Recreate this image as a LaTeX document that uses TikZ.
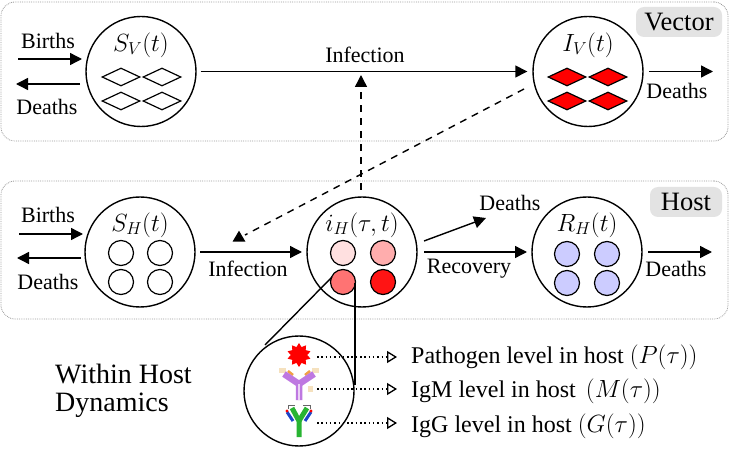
\documentclass[tikz,border=0pt]{standalone}
\usepackage{fontspec}
\setmainfont{Liberation Serif}
\usetikzlibrary{arrows.meta,shapes.geometric}
\definecolor{igmpurple}{RGB}{190,120,225}
\definecolor{igmpale}{RGB}{235,210,245}
\definecolor{igmorange}{RGB}{240,160,70}
\definecolor{igmsand}{RGB}{245,225,190}
\definecolor{iggblue}{RGB}{30,70,200}
\definecolor{igggreen}{RGB}{40,180,50}
\tikzset{
  panel/.style={draw=black!40, densely dotted, rounded corners=14pt, line width=0.8pt},
  tag/.style={fill=black!11, rounded corners=8pt, inner sep=0pt, font=\fontsize{26.5}{30}\selectfont},
  state/.style={draw, circle, line width=1.4pt, minimum size=110pt, inner sep=0pt},
  statetext/.style={font=\fontsize{27}{30}\selectfont},
  lab/.style={font=\fontsize{22}{26}\selectfont},
  note/.style={font=\fontsize{24}{28}\selectfont, anchor=base west, inner sep=0pt},
  flow/.style={-{Triangle[length=12pt,width=12pt]}, line width=1.4pt},
  dashflow/.style={line width=1.4pt, dash pattern=on 7pt off 6pt},
  rhomb/.style={draw, diamond, aspect=2.1, line width=1.2pt, minimum width=38pt, minimum height=18pt, inner sep=0pt},
  cell/.style={draw, circle, line width=1.2pt, minimum size=25pt, inner sep=0pt},
  probe/.style={dash pattern=on 1.5pt off 2.8pt, line width=1.4pt, -{Triangle[open,length=10pt,width=12pt,line width=1.3pt]}}
}
\begin{document}
\begin{tikzpicture}[x=1pt,y=-1pt]
\useasboundingbox (0,0) rectangle (729,449);
% panels
\node[panel, minimum width=727pt, minimum height=139pt, inner sep=0pt] (vectorbox) at (364.5,71.5) {};
\node[panel, minimum width=727pt, minimum height=138pt, inner sep=0pt] (hostbox) at (364.5,250) {};
\node[tag, minimum width=86pt, minimum height=30pt] (vectortag) at (679,22) {Vector};
\node[tag, minimum width=72pt, minimum height=30pt] (hosttag) at (686,202) {Host};
% states
\node[state] (SV) at (141,71.5) {};
\node[state] (IV) at (588,71.5) {};
\node[state] (SH) at (140,252) {};
\node[state] (iH) at (362,252) {};
\node[state] (RH) at (587,252) {};
\node[statetext] (SVtext) at (141,45) {$S_V(t)$};
\node[statetext] (IVtext) at (588,45) {$I_V(t)$};
\node[statetext] (SHtext) at (140,225) {$S_H(t)$};
\node[statetext] (iHtext) at (362,225) {$i_H(\tau,t)$};
\node[statetext] (RHtext) at (587,225) {$R_H(t)$};
% diamonds
\node[rhomb] (SV1) at (121,77) {};
\node[rhomb] (SV2) at (162,77) {};
\node[rhomb] (SV3) at (121,101) {};
\node[rhomb] (SV4) at (162,101) {};
\node[rhomb, fill=red] (IV1) at (567,77) {};
\node[rhomb, fill=red] (IV2) at (608,77) {};
\node[rhomb, fill=red] (IV3) at (567,101) {};
\node[rhomb, fill=red] (IV4) at (608,101) {};
% cells
\node[cell] (SH1) at (121,253) {};
\node[cell] (SH2) at (160,253) {};
\node[cell] (SH3) at (121,282) {};
\node[cell] (SH4) at (160,282) {};
\node[cell, fill=red!12] (iH1) at (343,253) {};
\node[cell, fill=red!32] (iH2) at (383,253) {};
\node[cell, fill=red!55] (iH3) at (343,282) {};
\node[cell, fill=red!92] (iH4) at (383,282) {};
\node[cell, fill=blue!20] (RH1) at (567,254) {};
\node[cell, fill=blue!20] (RH2) at (607,254) {};
\node[cell, fill=blue!20] (RH3) at (567,283) {};
\node[cell, fill=blue!20] (RH4) at (607,283) {};
% free ends
\coordinate (SVbirth0) at (18,59);
\coordinate (SVbirth1) at (82,59);
\coordinate (SVdeath0) at (80,84);
\coordinate (SVdeath1) at (16,84);
\coordinate (IVdeath0) at (649,71.5);
\coordinate (IVdeath1) at (713,71.5);
\coordinate (SHbirth0) at (19,234);
\coordinate (SHbirth1) at (83,234);
\coordinate (SHdeath0) at (81,258);
\coordinate (SHdeath1) at (17,258);
\coordinate (RHdeath0) at (648,252);
\coordinate (RHdeath1) at (712,252);
\coordinate (iHdeath0) at (424,241);
\coordinate (iHdeath1) at (486,218);
\coordinate (iHrec0) at (424,252);
\coordinate (iHrec1) at (527,252);
\coordinate (SHinf0) at (200,252);
\coordinate (SHinf1) at (302,252);
\coordinate (dash0) at (361,190);
\coordinate (dash1) at (361,75);
\coordinate (dash2) at (524,89);
\coordinate (dash3) at (245,235);
% arrows
\draw[flow] (SVbirth0) -- (SVbirth1);
\draw[flow] (SVdeath0) -- (SVdeath1);
\draw[flow, shorten <=4pt, shorten >=5pt] (SV) -- (IV);
\draw[flow] (IVdeath0) -- (IVdeath1);
\draw[flow] (SHbirth0) -- (SHbirth1);
\draw[flow] (SHdeath0) -- (SHdeath1);
\draw[flow] (SHinf0) -- (SHinf1);
\draw[flow] (iHdeath0) -- (iHdeath1);
\draw[flow] (iHrec0) -- (iHrec1);
\draw[flow] (RHdeath0) -- (RHdeath1);
\draw[flow, dashflow] (dash0) -- (dash1);
\draw[dashflow] (dash2) -- (dash3);
\node[fill=black, isosceles triangle, isosceles triangle stretches, shape border rotate=90, minimum height=11pt, minimum width=13pt, inner sep=0pt] (dashtip) at (239,238) {};
% labels
\node[lab] (SVbirthtext) at (48,41) {Births};
\node[lab] (SVdeathtext) at (47,107) {Deaths};
\node[lab] (SVinftext) at (365,55) {Infection};
\node[lab] (IVdeathtext) at (677,91) {Deaths};
\node[lab] (SHbirthtext) at (48,215) {Births};
\node[lab] (SHdeathtext) at (48,282) {Deaths};
\node[lab] (SHinftext) at (248,269) {Infection};
\node[lab] (iHdeathtext) at (510,203) {Deaths};
\node[lab] (iHrectext) at (469,269) {Recovery};
\node[lab] (RHdeathtext) at (676,269) {Deaths};
% zoom into host
\node[state, fill=white] (lens) at (299,391) {};
\coordinate (lens0) at (332,277);
\coordinate (lens1) at (265,345);
\coordinate (lens2) at (355,283);
\coordinate (lens3) at (355,385);
\draw[line width=1.4pt] (lens0) -- (lens1);
\draw[line width=1.4pt] (lens2) -- (lens3);
\node[star, star points=10, star point ratio=1.45, fill=red, minimum size=24pt, inner sep=0pt] (pathogen) at (299,355) {};
% IgM
\fill[igmsand] (279,368) rectangle (286,373);
\fill[igmsand] (312,368) rectangle (319,373);
\fill[igmsand] (308,386) rectangle (313,392);
\draw[line width=2.5pt, draw=igmorange] (287,376) -- (292,380);
\draw[line width=2.5pt, draw=igmorange] (288,371) -- (293,375);
\draw[line width=2.5pt, draw=igmorange] (311,376) -- (306,380);
\draw[line width=2.5pt, draw=igmorange] (310,371) -- (305,375);
\draw[line width=6.5pt, draw=igmpurple] (299,400) -- (299,384) -- (284,374);
\draw[line width=6.5pt, draw=igmpurple] (299,384) -- (314,374);
\draw[line width=2pt, draw=igmpale] (299,400) -- (299,384);
% IgG
\draw[line width=0.4pt, draw=black!60] (288,409) -- (288,405) -- (295,405);
\draw[line width=0.4pt, draw=black!60] (310,409) -- (310,405) -- (303,405);
\draw[line width=3pt, draw=iggblue] (287,412) -- (293,421);
\draw[line width=3pt, draw=iggblue] (311,412) -- (305,421);
\fill[red] (287,411) circle (1.6pt);
\fill[red] (311,411) circle (1.6pt);
\draw[line width=5pt, draw=igggreen] (299,437) -- (299,421) -- (292,408);
\draw[line width=5pt, draw=igggreen] (299,421) -- (307,408);
% probes
\coordinate (probe1) at (317,357);
\coordinate (probe2) at (317,389);
\coordinate (probe3) at (317,423);
\node[note] (pathtext) at (411,363) {Pathogen level in host $(P(\tau))$};
\node[note] (igmtext) at (411,397) {IgM level in host $\,(M(\tau))$};
\node[note] (iggtext) at (411,432) {IgG level in host $(G(\tau))$};
\coordinate (probe1end) at (397,357);
\coordinate (probe2end) at (397,389);
\coordinate (probe3end) at (397,423);
\draw[probe] (probe1) -- (probe1end);
\draw[probe] (probe2) -- (probe2end);
\draw[probe] (probe3) -- (probe3end);
\node[font=\fontsize{28}{28}\selectfont, align=left, anchor=west, inner sep=0pt] (withintext) at (55,391) {Within Host\\Dynamics};
\end{tikzpicture}
\end{document}
